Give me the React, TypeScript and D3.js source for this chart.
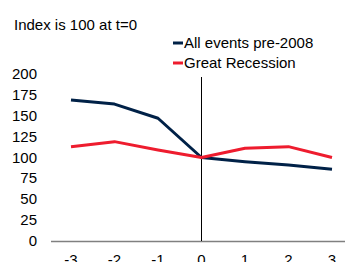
import React from 'react';
import * as d3 from 'd3';

const periods = [-3, -2, -1, 0, 1, 2, 3];
const allEvents = [169, 164, 147, 100, 95, 91, 86];
const greatRecession = [113, 119, 109, 100, 111, 113, 100];
const yTicks = [0, 25, 50, 75, 100, 125, 150, 175, 200];
const seriesNames = ['All events pre-2008', 'Great Recession'];
const seriesColors = ['#002147', '#ee1c2e'];

const width = 345;
const height = 262;

const App = () => {
    const x = d3.scaleLinear().domain([-3, 3]).range([71, 332]);
    const y = d3.scaleLinear().domain([0, 200]).range([241, 74]);

    const line = d3.line<number>()
        .x((d, i) => x(periods[i]))
        .y(d => y(d));

    const series = [allEvents, greatRecession];
    const font = '"Liberation Sans", Arial, sans-serif';
    const zeroX = Math.floor(x(0)) + 0.5; // crisp 1px line

    return (
        <svg width={width} height={height} style={{ position: 'absolute', left: 0, top: 0 }}
            fontFamily={font}>
            <rect width={width} height={height} fill="#fff" />
            <text x={14} y={30} fontSize={15} fill="#000">Index is 100 at t=0</text>

            {/* legend */}
            {seriesNames.map((name, i) => (
                <g key={name} transform={`translate(173,${43 + i * 20})`}>
                    <line x1={0} x2={10} y1={0} y2={0} stroke={seriesColors[i]} strokeWidth={3} />
                    <text x={11} y={5} fontSize={15} fill="#000">{name}</text>
                </g>
            ))}

            {/* y tick labels */}
            {yTicks.map(t => (
                <text key={t} x={37} y={y(t) + 5} fontSize={15} textAnchor="end" fill="#000">{t}</text>
            ))}

            {/* x axis */}
            <line x1={51} x2={345} y1={241.5} y2={241.5} stroke="#808080" strokeWidth={1.5} />
            {periods.map(p => (
                <text key={p} x={x(p)} y={265} fontSize={15} textAnchor="middle" fill="#000">{p}</text>
            ))}

            {/* vertical line at t=0 */}
            <line x1={zeroX} x2={zeroX} y1={77} y2={241} stroke="#000" strokeWidth={1} />

            {series.map((s, i) => (
                <path key={i} d={line(s) || ''} fill="none" stroke={seriesColors[i]} strokeWidth={3}
                    strokeLinejoin="round" />
            ))}
        </svg>
    );
};

export default App;
